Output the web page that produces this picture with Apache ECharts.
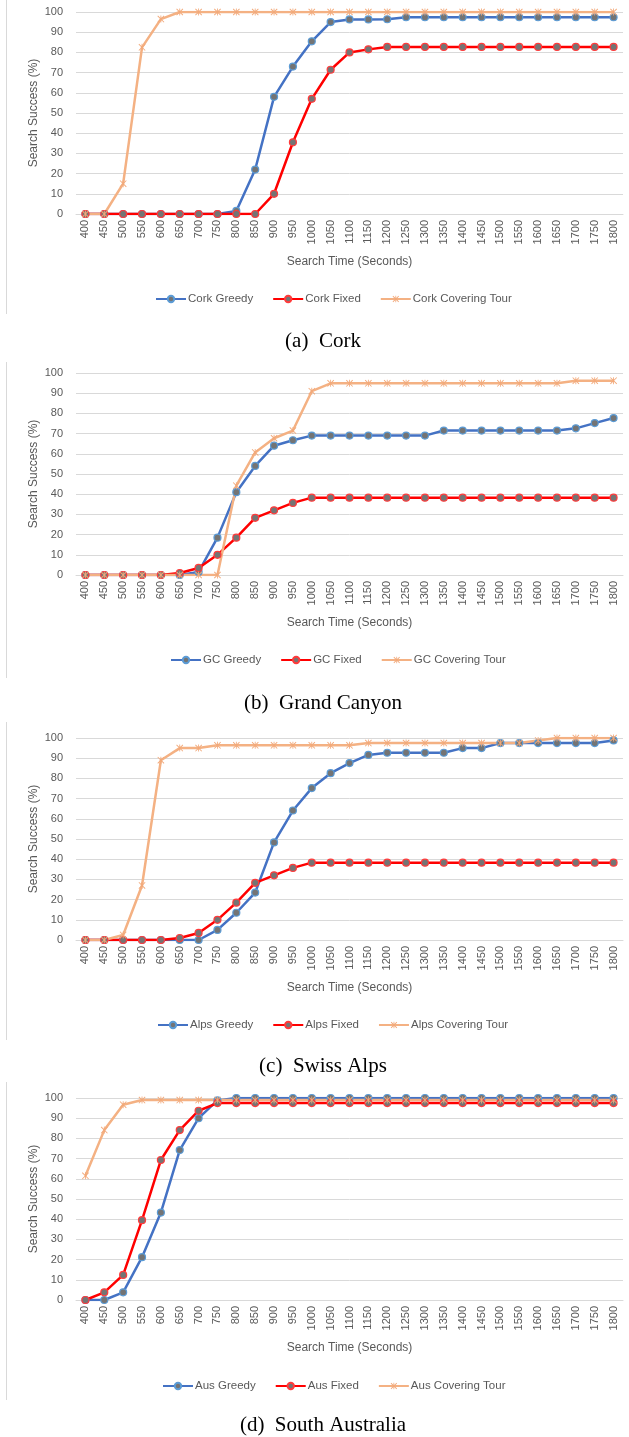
<!DOCTYPE html>
<html>
<head>
<meta charset="utf-8">
<script src="https://cdn.jsdelivr.net/npm/echarts@6/dist/echarts.min.js"></script>
<style>
html,body{margin:0;padding:0;background:#fff;}
#c{width:629px;height:1437px;}
</style>
</head>
<body>
<div id="c"></div>
<script>
var times = ['400','450','500','550','600','650','700','750','800','850','900','950','1000','1050','1100','1150','1200','1250','1300','1350','1400','1450','1500','1550','1600','1650','1700','1750','1800'];
var yTicks = [0,10,20,30,40,50,60,70,80,90,100];

var corkGreedy = [0,0,0,0,0,0,0,0,1.5,22,58,73,85.5,95,96.3,96.3,96.4,97.4,97.4,97.4,97.4,97.4,97.4,97.4,97.4,97.4,97.4,97.4,97.4];
var corkFixed  = [0,0,0,0,0,0,0,0,0,0,10,35.5,57,71.4,80,81.5,82.7,82.7,82.7,82.7,82.7,82.7,82.7,82.7,82.7,82.7,82.7,82.7,82.7];
var corkCover  = [0,0,15,82.5,96.5,100,100,100,100,100,100,100,100,100,100,100,100,100,100,100,100,100,100,100,100,100,100,100,100];

var gcGreedy = [0,0,0,0,0,0,1.5,18.5,41,54,64,66.7,69,69,69,69,69,69,69,71.5,71.5,71.5,71.5,71.5,71.5,71.5,72.6,75.2,77.7];
var gcFixed  = [0,0,0,0,0,1,3.5,10,18.5,28.3,32,35.7,38.3,38.3,38.3,38.3,38.3,38.3,38.3,38.3,38.3,38.3,38.3,38.3,38.3,38.3,38.3,38.3,38.3];
var gcCover  = [0,0,0,0,0,0,0,0,44.2,60.7,67.7,71.5,91,94.9,94.9,94.9,94.9,94.9,94.9,94.9,94.9,94.9,94.9,94.9,94.9,94.9,96.2,96.2,96.2];

var alpsGreedy = [0,0,0,0,0,0,0,5,13.5,23.5,48.3,64.1,75.2,82.6,87.6,91.6,92.7,92.7,92.7,92.7,95,95,97.5,97.5,97.5,97.5,97.5,97.5,98.8];
var alpsFixed  = [0,0,0,0,0,1,3.5,10,18.5,28.3,32,35.7,38.3,38.3,38.3,38.3,38.3,38.3,38.3,38.3,38.3,38.3,38.3,38.3,38.3,38.3,38.3,38.3,38.3];
var alpsCover  = [0,0,2.5,27,89,95,95,96.4,96.4,96.4,96.4,96.4,96.4,96.4,96.4,97.5,97.5,97.5,97.5,97.5,97.5,97.5,97.5,97.5,98.8,100,100,100,100];

var ausGreedy = [0,0,3.8,21.2,43.3,74.2,90,98.8,100,100,100,100,100,100,100,100,100,100,100,100,100,100,100,100,100,100,100,100,100];
var ausFixed  = [0,3.8,12.4,39.5,69.3,84.1,93.7,97.5,97.5,97.5,97.5,97.5,97.5,97.5,97.5,97.5,97.5,97.5,97.5,97.5,97.5,97.5,97.5,97.5,97.5,97.5,97.5,97.5,97.5];
var ausCover  = [61.5,84.1,96.7,99,99,99,99,99,99,99,99,99,99,99,99,99,99,99,99,99,99,99,99,99,99,99,99,99,99];

var panels = [
  {prefix:'Cork', greedy:corkGreedy, fixed:corkFixed, cover:corkCover, caption:'(a)  Cork'},
  {prefix:'GC', greedy:gcGreedy, fixed:gcFixed, cover:gcCover, caption:'(b)  Grand Canyon'},
  {prefix:'Alps', greedy:alpsGreedy, fixed:alpsFixed, cover:alpsCover, caption:'(c)  Swiss Alps'},
  {prefix:'Aus', greedy:ausGreedy, fixed:ausFixed, cover:ausCover, caption:'(d)  South Australia'}
];

// layout (pixels)
var gridTops = [12, 373, 738, 1098];
var gridH = 202;
var legendTops = [288, 649, 1014, 1375];
var legendLefts = [150, 165, 152, 157];
var captionY = [341, 703, 1066, 1425];
var frames = [[0,314],[362,678],[722,1040],[1082,1400]];

var FONT = 'Liberation Sans';
var GRAY = '#595959';
var BLUE = '#4472C4', RED = '#FF0000', ORANGE = '#F4B183';
var STAR = 'path://M4.4,0 L5.6,0 L5.6,10 L4.4,10 Z M0,0.9 L0.9,0 L10,9.1 L9.1,10 Z M9.1,0 L10,0.9 L0.9,10 L0,9.1 Z';

var option = {
  animation:false,
  backgroundColor:'#fff',
  textStyle:{fontFamily:FONT},
  grid:[], xAxis:[], yAxis:[], legend:[], series:[], graphic:[]
};

panels.forEach(function(p, i){
  option.grid.push({left:76, right:6, top:gridTops[i], height:gridH, containLabel:false});
  option.xAxis.push({
    type:'category', gridIndex:i, data:times, boundaryGap:true,
    name:'Search Time (Seconds)', nameLocation:'middle', nameGap:42,
    nameTextStyle:{color:GRAY, fontSize:12, fontFamily:FONT},
    axisLine:{lineStyle:{color:'#d9d9d9', width:1}},
    axisTick:{show:false},
    axisLabel:{rotate:90, color:GRAY, fontSize:11, fontFamily:FONT, margin:6, interval:0}
  });
  option.yAxis.push({
    type:'value', gridIndex:i, min:yTicks[0], max:yTicks[yTicks.length-1], interval:yTicks[1]-yTicks[0],
    name:'Search Success (%)', nameLocation:'middle', nameGap:36, nameMoveOverlap:false,
    nameTextStyle:{color:GRAY, fontSize:12, fontFamily:FONT},
    axisLine:{show:false}, axisTick:{show:false},
    axisLabel:{color:GRAY, fontSize:11, fontFamily:FONT, margin:13},
    splitLine:{lineStyle:{color:'#d9d9d9', width:1}}
  });
  var names = [p.prefix+' Greedy', p.prefix+' Fixed', p.prefix+' Covering Tour'];
  option.legend.push({
    data:names, left:legendLefts[i], top:legendTops[i], orient:'horizontal',
    itemWidth:30, itemHeight:8, itemGap:19,
    textStyle:{color:GRAY, fontSize:11.5, fontFamily:FONT, padding:[0,0,0,-3]}
  });
  option.series.push({
    name:names[0], type:'line', xAxisIndex:i, yAxisIndex:i, data:p.greedy,
    symbol:'circle', symbolSize:7, showAllSymbol:true,
    lineStyle:{color:BLUE, width:2.5},
    itemStyle:{color:'#747474', borderColor:'#5B9BD5', borderWidth:1.2}
  });
  option.series.push({
    name:names[1], type:'line', xAxisIndex:i, yAxisIndex:i, data:p.fixed,
    symbol:'circle', symbolSize:7, showAllSymbol:true,
    lineStyle:{color:RED, width:2.5},
    itemStyle:{color:'#747474', borderColor:'#FF3B3B', borderWidth:1.2}
  });
  option.series.push({
    name:names[2], type:'line', xAxisIndex:i, yAxisIndex:i, data:p.cover,
    symbol:STAR, symbolSize:7, showAllSymbol:true,
    lineStyle:{color:ORANGE, width:2.5},
    itemStyle:{color:'#F2A97A', borderWidth:0}
  });
  option.graphic.push({
    type:'line', silent:true,
    shape:{x1:6.5, y1:frames[i][0], x2:6.5, y2:frames[i][1]},
    style:{stroke:'#d9d9d9', lineWidth:1}
  });
  option.graphic.push({
    type:'text', silent:true, x:323, y:captionY[i],
    style:{text:p.caption, fill:'#000', font:'21px "Liberation Serif"', textAlign:'center', textVerticalAlign:'middle'}
  });
});

var chart = echarts.init(document.getElementById('c'), null, {renderer:'canvas'});
chart.setOption(option);
</script>
</body>
</html>
